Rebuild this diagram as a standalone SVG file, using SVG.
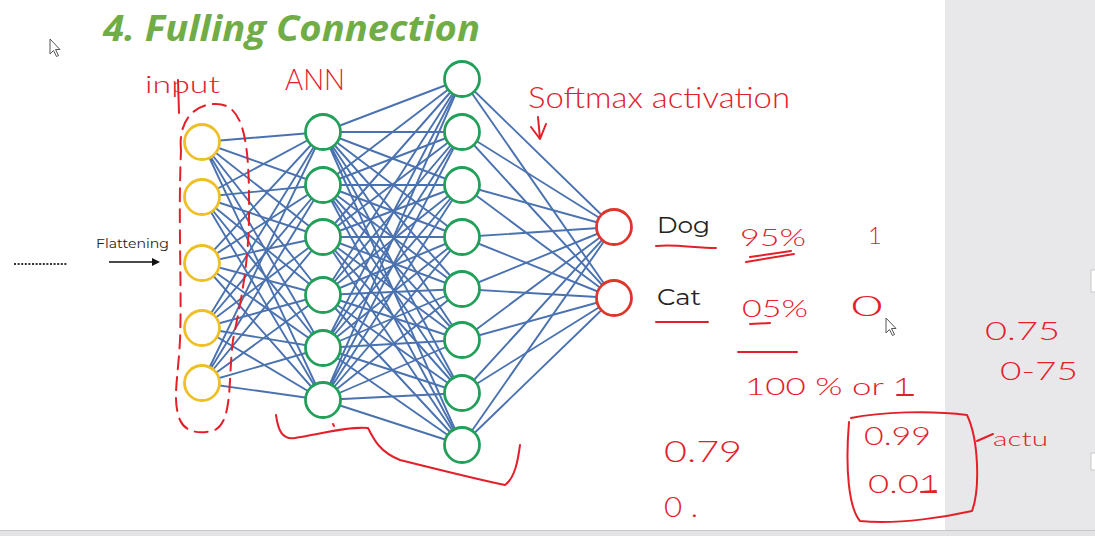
<svg xmlns="http://www.w3.org/2000/svg" width="1095" height="536" viewBox="0 0 1095 536">
<defs>
<style>
.edge{stroke:#4a72b0;stroke-width:1.9;fill:none}
.nin{fill:#fff;stroke:#efbf26;stroke-width:2.8}
.nh{fill:#fff;stroke:#22a05a;stroke-width:2.8}
.nout{fill:#fff;stroke:#e0352b;stroke-width:2.8}
.hw{fill:#e3202a;font-family:Lato,'Open Sans',sans-serif;font-weight:300}
.ink{fill:none;stroke:#e3202a;stroke-width:2;stroke-linecap:round;stroke-linejoin:round}
.lbl{fill:#222;font-family:Montserrat,'Open Sans','Liberation Sans',sans-serif}
.cur{fill:#fff;stroke:#555;stroke-width:1}
</style>
</defs>
<rect x="0" y="0" width="1095" height="536" fill="#fff"/>
<rect x="945" y="0" width="150" height="530" fill="#e8e8ea"/>
<rect x="1091" y="270" width="5" height="22" fill="#fff" stroke="#c8c8c8" stroke-width="1"/>
<rect x="1091" y="453" width="5" height="17" fill="#fff" stroke="#c8c8c8" stroke-width="1"/>
<rect x="0" y="530" width="1095" height="6" fill="#e4e4e6"/>
<line x1="0" y1="530.5" x2="1095" y2="530.5" stroke="#c6c6c8" stroke-width="1"/>

<text x="103" y="41" font-family="'Open Sans','Liberation Sans',sans-serif" font-weight="bold" font-style="italic" font-size="35" fill="#70ad47" textLength="377" lengthAdjust="spacingAndGlyphs">4. Fulling Connection</text>

<g id="cursors">
<path class="cur" d="M50 39 L50 54 L53.5 50.5 L56.5 56.5 L58.5 55.5 L55.5 49.5 L60 49.5 Z"/>
<path class="cur" d="M886 318 L886 333 L889.5 329.5 L892.5 335.5 L894.5 334.5 L891.5 328.5 L896 328.5 Z"/>
</g>

<g id="flatten">
<line x1="14" y1="264" x2="68" y2="264" stroke="#333" stroke-width="2" stroke-dasharray="2 1.6"/>
<text class="lbl" x="96" y="248" font-size="12.5" textLength="73" lengthAdjust="spacingAndGlyphs">Flattening</text>
<line x1="109" y1="262" x2="153" y2="262" stroke="#111" stroke-width="1.6"/>
<polygon points="152,258 160,262 152,266" fill="#111"/>
</g>

<g id="connectors">
<path class="edge" d="M202 142L323 132M202 142L323 185M202 142L323 237M202 142L323 295M202 142L323 348M202 142L323 400"/>
<path class="edge" d="M202 197L323 132M202 197L323 185M202 197L323 237M202 197L323 295M202 197L323 348M202 197L323 400"/>
<path class="edge" d="M202 263L323 132M202 263L323 185M202 263L323 237M202 263L323 295M202 263L323 348M202 263L323 400"/>
<path class="edge" d="M202 328L323 132M202 328L323 185M202 328L323 237M202 328L323 295M202 328L323 348M202 328L323 400"/>
<path class="edge" d="M202 383L323 132M202 383L323 185M202 383L323 237M202 383L323 295M202 383L323 348M202 383L323 400"/>
<path class="edge" d="M323 132L462 79M323 132L462 132M323 132L462 185M323 132L462 237M323 132L462 289M323 132L462 340M323 132L462 393M323 132L462 445"/>
<path class="edge" d="M323 185L462 79M323 185L462 132M323 185L462 185M323 185L462 237M323 185L462 289M323 185L462 340M323 185L462 393M323 185L462 445"/>
<path class="edge" d="M323 237L462 79M323 237L462 132M323 237L462 185M323 237L462 237M323 237L462 289M323 237L462 340M323 237L462 393M323 237L462 445"/>
<path class="edge" d="M323 295L462 79M323 295L462 132M323 295L462 185M323 295L462 237M323 295L462 289M323 295L462 340M323 295L462 393M323 295L462 445"/>
<path class="edge" d="M323 348L462 79M323 348L462 132M323 348L462 185M323 348L462 237M323 348L462 289M323 348L462 340M323 348L462 393M323 348L462 445"/>
<path class="edge" d="M323 400L462 79M323 400L462 132M323 400L462 185M323 400L462 237M323 400L462 289M323 400L462 340M323 400L462 393M323 400L462 445"/>
<path class="edge" d="M462 79L614 227M462 132L614 227M462 185L614 227M462 237L614 227M462 289L614 227M462 340L614 227M462 393L614 227M462 445L614 227"/>
<path class="edge" d="M462 79L614 298M462 132L614 298M462 185L614 298M462 237L614 298M462 289L614 298M462 340L614 298M462 393L614 298M462 445L614 298"/>
</g>

<g id="input-layer">
<circle id="in1" class="nin" cx="202" cy="142" r="17.5"/>
<circle id="in2" class="nin" cx="202" cy="197" r="17.5"/>
<circle id="in3" class="nin" cx="202" cy="263" r="17.5"/>
<circle id="in4" class="nin" cx="202" cy="328" r="17.5"/>
<circle id="in5" class="nin" cx="202" cy="383" r="17.5"/>
</g>
<g id="hidden-layer-1">
<circle id="h1a" class="nh" cx="323" cy="132" r="17.5"/>
<circle id="h1b" class="nh" cx="323" cy="185" r="17.5"/>
<circle id="h1c" class="nh" cx="323" cy="237" r="17.5"/>
<circle id="h1d" class="nh" cx="323" cy="295" r="17.5"/>
<circle id="h1e" class="nh" cx="323" cy="348" r="17.5"/>
<circle id="h1f" class="nh" cx="323" cy="400" r="17.5"/>
</g>
<g id="hidden-layer-2">
<circle id="h2a" class="nh" cx="462" cy="79" r="17.5"/>
<circle id="h2b" class="nh" cx="462" cy="132" r="17.5"/>
<circle id="h2c" class="nh" cx="462" cy="185" r="17.5"/>
<circle id="h2d" class="nh" cx="462" cy="237" r="17.5"/>
<circle id="h2e" class="nh" cx="462" cy="289" r="17.5"/>
<circle id="h2f" class="nh" cx="462" cy="340" r="17.5"/>
<circle id="h2g" class="nh" cx="462" cy="393" r="17.5"/>
<circle id="h2h" class="nh" cx="462" cy="445" r="17.5"/>
</g>
<g id="output-layer">
<g id="out-dog"><circle class="nout" cx="614" cy="227" r="17.5"/><text class="lbl" x="657" y="233" font-size="22" textLength="53" lengthAdjust="spacingAndGlyphs">Dog</text></g>
<g id="out-cat"><circle class="nout" cx="614" cy="298" r="17.5"/><text class="lbl" x="657" y="305" font-size="22" textLength="44" lengthAdjust="spacingAndGlyphs">Cat</text></g>
</g>

<g id="annotations">
<text class="hw" x="145" y="93" font-size="24" textLength="75" lengthAdjust="spacingAndGlyphs">input</text>
<path class="ink" d="M178 80 L179 113"/>
<text class="hw" x="285" y="90" font-size="30" textLength="60" lengthAdjust="spacingAndGlyphs">ANN</text>
<text class="hw" x="528" y="108" font-size="30" textLength="262" lengthAdjust="spacingAndGlyphs">Softmax activation</text>
<path class="ink" d="M538 117 L540 139 M531 127 L540 139 L546 124"/>
<path class="ink" stroke-dasharray="13 8" d="M181 150 C178 120 195 104 216 104 C240 104 249 130 249 200 C250 260 241 300 233 340 C228 380 233 420 215 430 C200 435 185 432 180 420 C172 400 178 380 180 340 C182 290 178 220 181 150 Z"/>
<path class="ink" d="M276 415 C278 430 282 440 295 438 C320 434 350 426 368 428 C374 440 380 452 400 460 C440 470 480 480 505 485 C515 478 518 460 520 445"/>
<path class="ink" d="M333 424 L334 426"/>
<path class="ink" d="M656 246 C675 244 695 248 716 248"/>
<path class="ink" d="M656 322 L708 322"/>
<text class="hw" x="740" y="246" font-size="24" textLength="66" lengthAdjust="spacingAndGlyphs">95%</text>
<path class="ink" d="M746 262 L794 254 M750 257 L791 251"/>
<text class="hw" x="868" y="244" font-size="24">1</text>
<text class="hw" x="851" y="316" font-size="28" textLength="32" lengthAdjust="spacingAndGlyphs">0</text>
<text class="hw" x="742" y="317" font-size="24" textLength="66" lengthAdjust="spacingAndGlyphs">05%</text>
<path class="ink" stroke-width="3" d="M750 324 L770 323"/>
<path class="ink" d="M738 352 L797 352"/>
<text class="hw" x="745" y="395" font-size="24" textLength="168" lengthAdjust="spacingAndGlyphs">100 % or 1</text>
<path class="ink" d="M897 395 L913 395"/>
<text class="hw" x="664" y="462" font-size="30" textLength="78" lengthAdjust="spacingAndGlyphs">0.79</text>
<text class="hw" x="664" y="517" font-size="28" textLength="34" lengthAdjust="spacingAndGlyphs">0 .</text>
<path class="ink" d="M849 422 C845 470 849 508 860 521 C900 525 950 516 972 511 C980 490 979 440 967 415 C930 410 880 412 851 418"/>
<text class="hw" x="864" y="445" font-size="26" textLength="67" lengthAdjust="spacingAndGlyphs">0.99</text>
<text class="hw" x="868" y="493" font-size="26" textLength="72" lengthAdjust="spacingAndGlyphs">0.01</text>
<path class="ink" d="M921 492 L936 491"/>
<path class="ink" d="M977 441 L993 434"/>
<text class="hw" x="993" y="446" font-size="20" textLength="55" lengthAdjust="spacingAndGlyphs">actu</text>
<text class="hw" x="985" y="340" font-size="26" textLength="75" lengthAdjust="spacingAndGlyphs">0.75</text>
<text class="hw" x="1000" y="380" font-size="26" textLength="78" lengthAdjust="spacingAndGlyphs">0-75</text>
</g>
</svg>
